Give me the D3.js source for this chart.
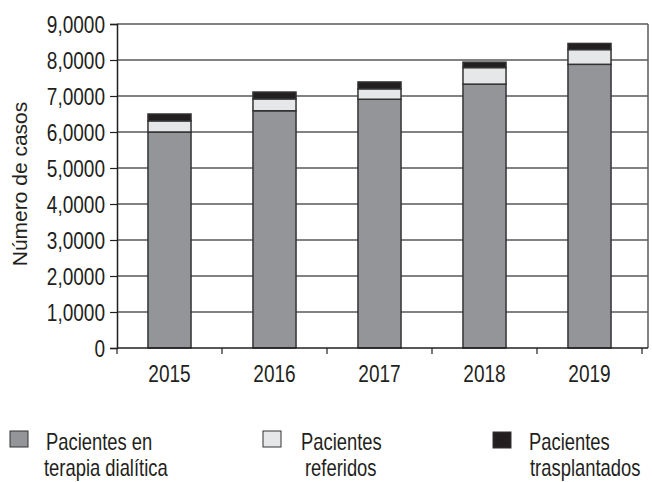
<!DOCTYPE html>
<html>
<head>
<meta charset="utf-8">
<script src="https://cdn.jsdelivr.net/npm/d3@7"></script>
<style>
  body { margin: 0; background: #fff; }
  text { font-family: "Liberation Sans", Arial, sans-serif; fill: #231f20; }
</style>
</head>
<body>
<svg id="chart" width="652" height="482"></svg>
<script>
// Data: cases per year, stacked by patient group
const years = ["2015", "2016", "2017", "2018", "2019"];
const dialisis = [6.00, 6.59, 6.91, 7.33, 7.88];
const referidos = [0.31, 0.33, 0.29, 0.46, 0.41];
const trasplantados = [0.19, 0.19, 0.19, 0.15, 0.17];

const yTicks = [0, 1, 2, 3, 4, 5, 6, 7, 8, 9];
const yTickLabels = ["0", "1,0000", "2,0000", "3,0000", "4,0000", "5,0000",
                     "6,0000", "7,0000", "8,0000", "9,0000"];
const yTitle = "Número de casos";

const seriesKeys = ["dialisis", "referidos", "trasplantados"];
const seriesColors = ["#939598", "#e6e7e8", "#231f20"];
const legendLines = [["Pacientes en", "terapia dialítica"],
                     ["Pacientes", "referidos"],
                     ["Pacientes", "trasplantados"]];

const svg = d3.select("#chart");
const TICK_FS = 23.5, TICK_SX = 0.81;   // condensed axis labels
const LEG_FS = 23, LEG_SX = 0.80;       // condensed legend labels
const plot = { left: 117, right: 648, top: 24, bottom: 348, bandRight: 642 };

const x = d3.scaleBand().domain(years)
  .range([plot.left, plot.bandRight])
  .paddingInner(0.59).paddingOuter(0.295);
const y = d3.scaleLinear().domain([0, 9]).range([plot.bottom, plot.top]);

const rows = years.map((yr, i) => ({
  year: yr, dialisis: dialisis[i], referidos: referidos[i], trasplantados: trasplantados[i]
}));
const stacked = d3.stack().keys(seriesKeys)(rows);

// Horizontal gridlines
svg.append("g").selectAll("line")
  .data(yTicks.filter(d => d > 0))
  .join("line")
  .attr("x1", plot.left).attr("x2", plot.right)
  .attr("y1", d => y(d)).attr("y2", d => y(d))
  .attr("stroke", "#58595b").attr("stroke-width", 1.5);

// Right border of the plot area
svg.append("line")
  .attr("x1", plot.right).attr("x2", plot.right)
  .attr("y1", y(9)).attr("y2", y(0))
  .attr("stroke", "#58595b").attr("stroke-width", 1.5);

// Stacked bars
svg.append("g").selectAll("g")
  .data(stacked)
  .join("g")
  .attr("fill", (d, i) => seriesColors[i])
  .selectAll("rect")
  .data(d => d)
  .join("rect")
  .attr("x", d => x(d.data.year))
  .attr("width", x.bandwidth())
  .attr("y", d => y(d[1]))
  .attr("height", d => y(d[0]) - y(d[1]))
  .attr("stroke", "#333")
  .attr("stroke-width", 1.5);

// Y axis
const yAxis = svg.append("g")
  .attr("transform", `translate(${plot.left},0)`)
  .call(d3.axisLeft(y).tickValues(yTicks).tickSize(7).tickPadding(4)
    .tickFormat((d, i) => yTickLabels[i]));
yAxis.select(".domain").attr("stroke", "#231f20").attr("stroke-width", 1.5);
yAxis.selectAll(".tick line").attr("stroke", "#231f20").attr("stroke-width", 1.2);
yAxis.selectAll(".tick text")
  .attr("font-size", TICK_FS).attr("font-family", null).attr("fill", "#231f20")
  .attr("x", null).attr("dy", "0.36em")
  .attr("transform", `translate(-12,0) scale(${TICK_SX},1)`);

// X axis line with ticks at category boundaries
svg.append("line")
  .attr("x1", plot.left).attr("x2", plot.right)
  .attr("y1", y(0)).attr("y2", y(0))
  .attr("stroke", "#231f20").attr("stroke-width", 1.5);
const bounds = years.map(d => x(d) - x.step() * x.paddingInner() / 2)
  .concat([x(years[years.length - 1]) + x.bandwidth() + x.step() * x.paddingInner() / 2]);
svg.append("g").selectAll("line")
  .data(bounds)
  .join("line")
  .attr("x1", d => d).attr("x2", d => d)
  .attr("y1", y(0)).attr("y2", y(0) + 6)
  .attr("stroke", "#231f20").attr("stroke-width", 1.2);
svg.append("g").selectAll("text")
  .data(years)
  .join("text")
  .attr("transform", d => `translate(${x(d) + x.bandwidth() / 2},382) scale(${TICK_SX},1)`)
  .attr("text-anchor", "middle")
  .attr("font-size", TICK_FS)
  .text(d => d);

// Y axis title
svg.append("text")
  .attr("transform", `translate(27,184) rotate(-90)`)
  .attr("text-anchor", "middle")
  .attr("font-size", 21)
  .text(yTitle);

// Legend
const legendPos = [
  { sx: 10, sy: 431, lines: [[46, 450], [44, 476]] },
  { sx: 263, sy: 431, lines: [[301, 450], [305, 476]] },
  { sx: 493, sy: 432, lines: [[529, 450], [530, 476]] }
];
const legend = svg.append("g").selectAll("g")
  .data(seriesKeys)
  .join("g");
legend.append("rect")
  .attr("x", (d, i) => legendPos[i].sx)
  .attr("y", (d, i) => legendPos[i].sy)
  .attr("width", 18).attr("height", 16)
  .attr("fill", (d, i) => seriesColors[i])
  .attr("stroke", "#333").attr("stroke-width", 1);
legend.each(function (d, i) {
  d3.select(this).selectAll("text")
    .data(legendLines[i])
    .join("text")
    .attr("transform", (t, j) =>
      `translate(${legendPos[i].lines[j][0]},${legendPos[i].lines[j][1]}) scale(${LEG_SX},1)`)
    .attr("font-size", LEG_FS)
    .text(t => t);
});
</script>
</body>
</html>
